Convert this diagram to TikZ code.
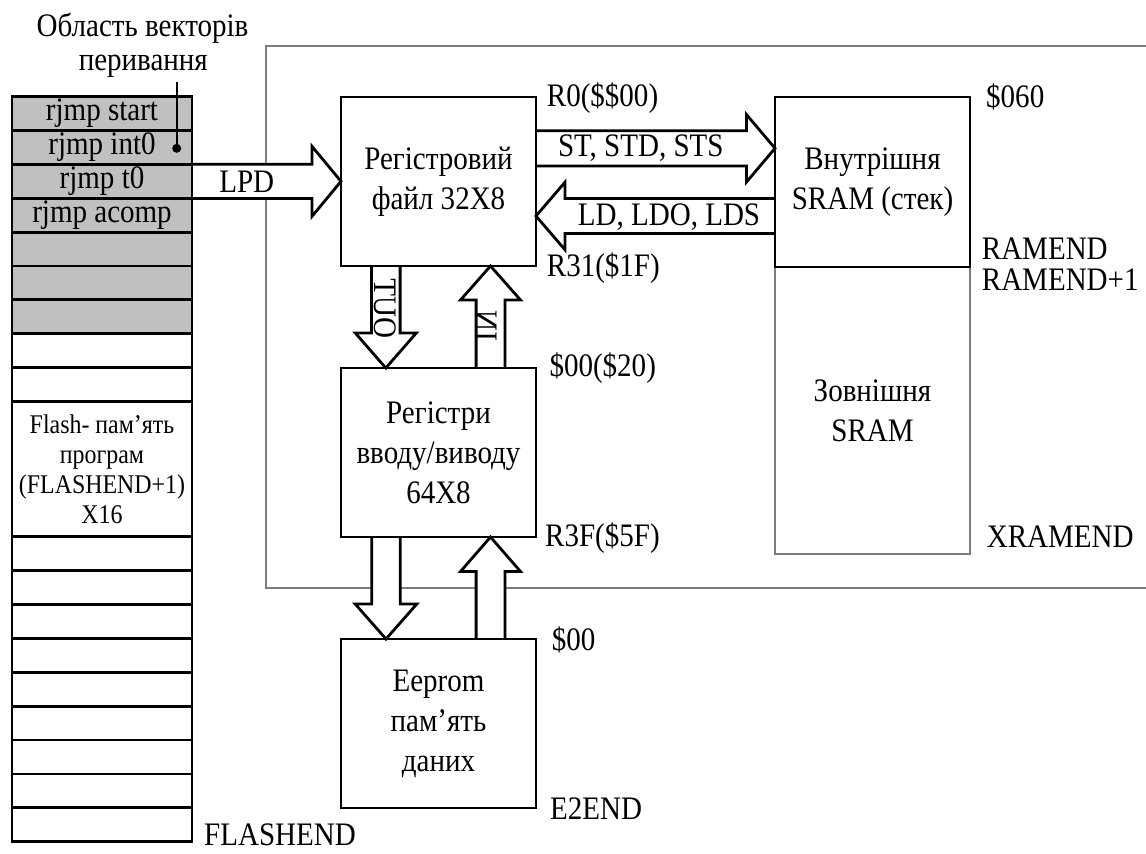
\documentclass[tikz,border=0pt]{standalone}
\usepackage{fontspec}
\setmainfont[FakeStretch=0.885]{Liberation Serif}
\usetikzlibrary{calc}
\pgfdeclarelayer{bg}
\pgfdeclarelayer{mid}
\pgfsetlayers{bg,mid,main}
\definecolor{vecgray}{RGB}{192,192,192}
\definecolor{framegray}{RGB}{125,125,125}
\tikzset{
  box/.style={draw, line width=2.8pt, minimum width=195pt, minimum height=169pt, inner sep=0pt, outer sep=0pt, align=center, font=\fontsize{32.8}{40}\selectfont},
  lbl/.style={anchor=west, inner sep=0pt, font=\fontsize{32.8}{38}\selectfont},
  txt/.style={inner sep=0pt, font=\fontsize{32.8}{38}\selectfont},
  cell/.style={draw, line width=2.8pt, minimum width=180pt, minimum height=33.86pt, inner sep=0pt, outer sep=0pt, font=\fontsize{32.8}{38}\selectfont},
  vcell/.style={cell, fill=vecgray},
  barr/.style={draw, line width=2.8pt, fill=white, line join=miter},
  frame/.style={draw=framegray, line width=1.8pt},
}
\newcommand\blockarrow[5]{%
  \path ($(#2)!#5!(#1)$) coordinate (hb);
  \draw[barr] ($(#1)!#3!90:(#2)$) -- ($(hb)!#3!90:(#2)$) -- ($(hb)!#4!90:(#2)$) -- (#2)
     -- ($(hb)!#4!-90:(#2)$) -- ($(hb)!#3!-90:(#2)$) -- ($(#1)!#3!-90:(#2)$);
}
\begin{document}
\begin{tikzpicture}[x=1pt,y=-1pt]
\useasboundingbox (0,0) rectangle (1146,854);

% flash column
\foreach \i/\t in {0/rjmp start,1/rjmp int0,2/rjmp t0,3/rjmp acomp,4/,5/,6/}
  \node[vcell] (f\i) at (102,{96.7+33.86*(\i+0.5)}) {\t};
\foreach \i in {7,8}
  \node[cell] (f\i) at (102,{96.7+33.86*(\i+0.5)}) {};
\foreach \i in {13,...,21}
  \node[cell] (f\i) at (102,{96.7+33.86*(\i+0.5)}) {};
\node[cell, minimum height=135.44pt, align=center, font=\fontsize{27}{30}\selectfont] (fbig) at (102,{96.7+33.86*11}) {Flash- пам’ять\\програм\\(FLASHEND+1)\\X16};
\node[lbl] (flend) at (204,835) {FLASHEND};

% title and pointer
\node[txt] (t1) at (142.5,28.3) {Область векторів};
\node[txt] (t2) at (143.3,66.7) {перивання};
\coordinate (dot) at (176.7,148.3);
\coordinate (dtop) at (176.7,81.7);
\draw[line width=2pt] (dtop) -- (dot);
\fill (dot) circle (4.5pt);

% boxes
\node[box] (reg) at (438.5,181.5) {Регістровий\\файл 32X8};
\node[box, draw=framegray, line width=1.8pt, minimum height=287pt] (xsram) at (872.5,410.5) {Зовнішня\\SRAM};
\node[box, minimum height=170pt] (sram) at (872.5,182) {Внутрішня\\SRAM (стек)};
\node[box] (io) at (438.5,452.5) {Регістри\\вводу/виводу\\64X8};
\node[box] (eep) at (438.5,723.5) {Eeprom\\пам’ять\\даних};

% address labels
\node[lbl] (r0) at (546.7,98.3) {R0(\$\$00)};
\node[lbl] (r31) at (546.7,268) {R31(\$1F)};
\node[lbl] (a060) at (986,96.7) {\$060};
\node[lbl] (ramend) at (981.7,248.3) {RAMEND};
\node[lbl] (ramend1) at (981.7,280) {RAMEND+1};
\node[lbl] (xramend) at (986.7,536.7) {XRAMEND};
\node[lbl] (io0) at (549.3,368.3) {\$00(\$20)};
\node[lbl] (io3f) at (545,538.3) {R3F(\$5F)};
\node[lbl] (e00) at (551.7,640) {\$00};
\node[lbl] (e2end) at (550,808.3) {E2END};

% frame
\begin{pgfonlayer}{bg}
\draw[frame] (1150,45.7) -- (265.7,45.7) -- (265.7,588.3) -- (1150,588.3);
\end{pgfonlayer}

% block arrows
\coordinate (lpdA) at (f2.east);
\coordinate (lpdB) at (reg.west |- f2.east);
\coordinate (stA) at ($(reg.north east)+(0,51.3)$);
\coordinate (stB) at (sram.west |- stA);
\coordinate (ldB) at ($(reg.north east)+(0,119)$);
\coordinate (ldA) at (sram.west |- ldB);
\coordinate (oA) at ($(reg.south west)+(44.8,0)$);
\coordinate (oB) at (io.north -| oA);
\coordinate (iA) at ($(io.north west)+(149.5,0)$);
\coordinate (iB) at (reg.south -| iA);
\coordinate (dA) at ($(io.south west)+(45,0)$);
\coordinate (dB) at (eep.north -| dA);
\coordinate (uA) at ($(eep.north west)+(149.5,0)$);
\coordinate (uB) at (io.south -| uA);
\begin{pgfonlayer}{mid}
\blockarrow{lpdA}{lpdB}{17.2pt}{35pt}{29pt}
\blockarrow{stA}{stB}{17.6pt}{33.7pt}{28.5pt}
\blockarrow{ldA}{ldB}{17.5pt}{33.8pt}{29pt}
\blockarrow{oA}{oB}{14.3pt}{30.5pt}{35pt}
\blockarrow{iA}{iB}{14.4pt}{30pt}{34pt}
\blockarrow{dA}{dB}{14.3pt}{30.8pt}{35pt}
\blockarrow{uA}{uB}{14.4pt}{30pt}{34.5pt}
\end{pgfonlayer}

% arrow labels
\node[txt] (lpdl) at (246.7,181.7) {LPD};
\node[txt] (stl) at (640.8,148) {ST, STD, STS};
\node[txt] (ldl) at (669,216.7) {LD, LDO, LDS};
\node[txt, cm={0,1,1,0,(0,0)}] (outl) at (385,309) {OUT};
\node[txt, cm={0,1,1,0,(0,0)}] (inl) at (486.7,326) {IN};
\end{tikzpicture}
\end{document}
